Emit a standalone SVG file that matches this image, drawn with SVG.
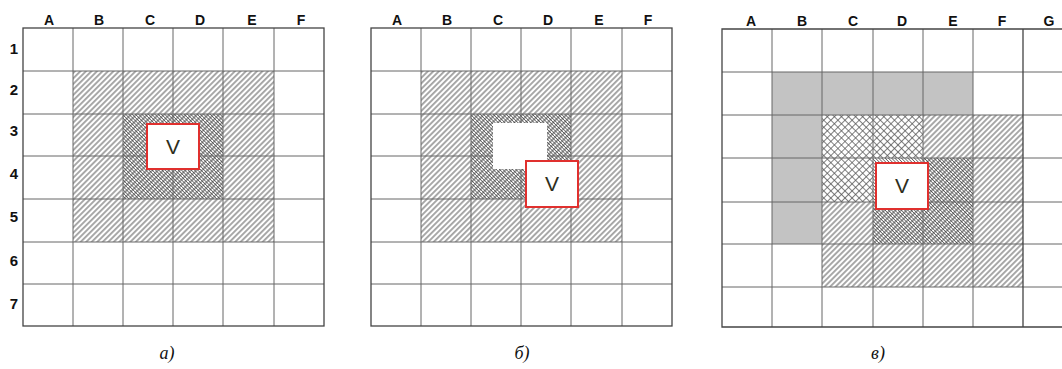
<svg xmlns="http://www.w3.org/2000/svg" width="1062" height="369" viewBox="0 0 1062 369">
<style>
.bg{fill:#fff}
.grid{fill:none;stroke:#666;stroke-width:1}
.frame{fill:none;stroke:#444;stroke-width:1.3}
.sp{fill:url(#sparse)}
.dn{fill:url(#dense)}
.cx{fill:url(#cross)}
.gr{fill:#c3c3c3}
.vbox{fill:#fff;stroke:#e0302e;stroke-width:2}
.vt{font-family:"Liberation Sans",Arial,sans-serif;font-size:21px;fill:#2e2e1c;text-anchor:middle}
.col{font-family:"Liberation Sans",Arial,sans-serif;font-size:14px;font-weight:bold;fill:#111;text-anchor:middle}
.row{font-family:"Liberation Sans",Arial,sans-serif;font-size:15px;font-weight:bold;fill:#111;text-anchor:middle}
.cap{font-family:"Liberation Serif","Times New Roman",serif;font-size:18px;font-style:italic;fill:#111;text-anchor:middle}
</style>
<defs>
<pattern id="sparse" patternUnits="userSpaceOnUse" width="10" height="3.9" patternTransform="rotate(-45)">
<line x1="0" y1="1.95" x2="10" y2="1.95" stroke="#333" stroke-width="0.85"/>
</pattern>
<pattern id="dense" patternUnits="userSpaceOnUse" width="10" height="2.3" patternTransform="rotate(45)">
<line x1="0" y1="1.15" x2="10" y2="1.15" stroke="#333" stroke-width="0.65"/>
</pattern>
<pattern id="cross" patternUnits="userSpaceOnUse" width="5" height="5" patternTransform="rotate(45)">
<path d="M0,2.5H5M2.5,0V5" stroke="#555" stroke-width="0.75" fill="none"/>
</pattern>
</defs>
<rect class="bg" x="0" y="0" width="1062" height="369"/>

<g id="panel-a">
<rect class="sp" x="73" y="71" width="201" height="171"/>
<rect class="dn" x="123" y="114" width="100" height="85"/>
<path class="grid" d="M73,28V326M123,28V326M173,28V326M223,28V326M274,28V326M23,71H324M23,114H324M23,156H324M23,199H324M23,242H324M23,284H324"/>
<rect class="frame" x="23" y="28" width="301" height="298"/>
<g class="col"><text x="49" y="25">A</text><text x="99" y="25">B</text><text x="150" y="25">C</text><text x="200" y="25">D</text><text x="252" y="25">E</text><text x="301" y="25">F</text></g>
<g class="row"><text x="14" y="54">1</text><text x="14" y="95">2</text><text x="14" y="136">3</text><text x="14" y="179">4</text><text x="14" y="222">5</text><text x="14" y="266">6</text><text x="14" y="309">7</text></g>
<g id="node-va"><rect class="vbox" x="147" y="124" width="52" height="45"/><text class="vt" x="173" y="154">V</text></g>
<text class="cap" x="167" y="359">а)</text>
</g>

<g id="panel-b">
<rect class="sp" x="421" y="71" width="201" height="171"/>
<rect class="dn" x="471" y="114" width="100" height="85"/>
<path class="grid" d="M421,28V326M471,28V326M521,28V326M571,28V326M622,28V326M371,71H672M371,114H672M371,156H672M371,199H672M371,242H672M371,284H672"/>
<rect class="frame" x="371" y="28" width="301" height="298"/>
<rect fill="#fff" x="493" y="123" width="54" height="46"/>
<g class="col"><text x="397" y="25">A</text><text x="447" y="25">B</text><text x="498" y="25">C</text><text x="548" y="25">D</text><text x="599" y="25">E</text><text x="648" y="25">F</text></g>
<g id="node-vb"><rect class="vbox" x="526" y="161" width="52" height="46"/><text class="vt" x="552" y="191">V</text></g>
<text class="cap" x="522" y="359">б)</text>
</g>

<g id="panel-c">
<rect class="gr" x="772" y="72" width="201" height="43"/>
<rect class="gr" x="772" y="115" width="50" height="129"/>
<rect class="sp" x="822" y="115" width="201" height="172"/>
<rect fill="#fff" x="822" y="115" width="101" height="87"/>
<rect class="cx" x="822" y="115" width="101" height="43"/>
<rect class="cx" x="822" y="158" width="51" height="44"/>
<rect class="dn" x="873" y="158" width="100" height="86"/>
<path class="grid" d="M772,29V327M822,29V327M873,29V327M923,29V327M973,29V327M722,72H1062M722,115H1062M722,158H1062M722,202H1062M722,244H1062M722,287H1062"/>
<path class="frame" d="M1062,29H722V327H1062M1023,29V327"/>
<g class="col"><text x="751" y="26">A</text><text x="802" y="26">B</text><text x="853" y="26">C</text><text x="902" y="26">D</text><text x="953" y="26">E</text><text x="1002" y="26">F</text><text x="1049" y="26">G</text></g>
<g id="node-vc"><rect class="vbox" x="876" y="163" width="52" height="46"/><text class="vt" x="902" y="193">V</text></g>
<text class="cap" x="878" y="359">в)</text>
</g>

<g id="connectors"></g>
</svg>
